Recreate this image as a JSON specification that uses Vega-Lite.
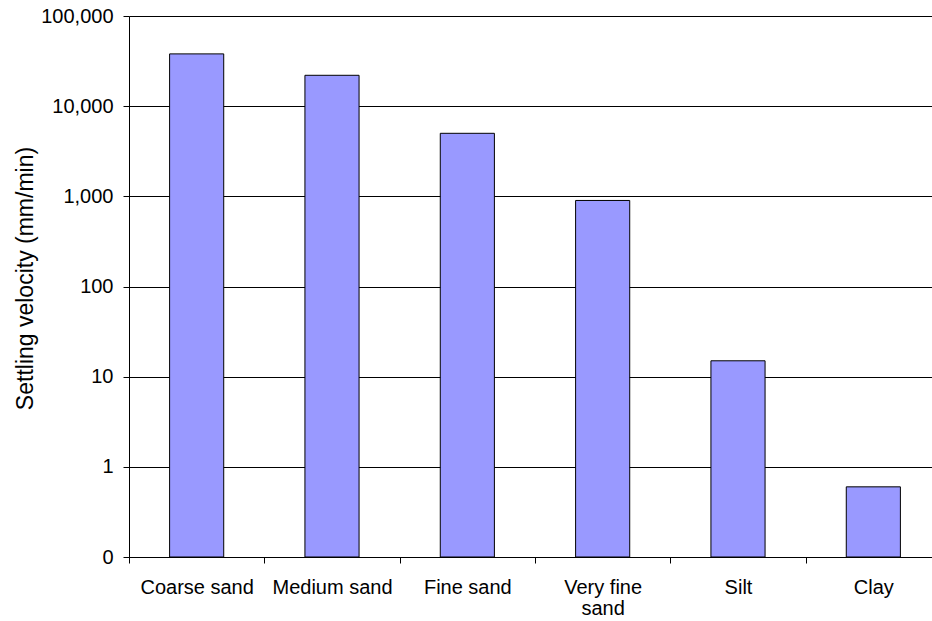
{
  "$schema": "https://vega.github.io/schema/vega-lite/v6.json",
  "width": 803,
  "height": 541,
  "autosize": {"type": "none"},
  "padding": {"left": 129, "top": 16, "right": 0, "bottom": 64},
  "background": "white",
  "config": {"view": {"stroke": null}, "font": "Liberation Sans"},
  "data": {
    "values": [
      {"sediment": "Coarse sand", "velocity": 38000},
      {"sediment": "Medium sand", "velocity": 22000},
      {"sediment": "Fine sand", "velocity": 5000},
      {"sediment": "Very fine sand", "velocity": 900},
      {"sediment": "Silt", "velocity": 15},
      {"sediment": "Clay", "velocity": 0.6}
    ]
  },
  "mark": {"type": "bar", "color": "#9999FF", "stroke": "#000000", "strokeWidth": 1},
  "encoding": {
    "x": {
      "field": "sediment",
      "type": "nominal",
      "sort": null,
      "title": null,
      "scale": {"range": [0, 812], "paddingInner": 0.6, "paddingOuter": 0.3},
      "axis": {
        "labelAngle": 0,
        "labelFontSize": 20,
        "labelColor": "#000000",
        "labelPadding": 14,
        "labelLineHeight": 21,
        "labelExpr": "datum.label == 'Very fine sand' ? ['Very fine', 'sand'] : datum.label",
        "domainColor": "#000000",
        "tickColor": "#000000",
        "tickSize": 6,
        "tickOffset": -67.7,
        "labelOffset": 67.7,
        "grid": false
      }
    },
    "y": {
      "field": "velocity",
      "type": "quantitative",
      "title": "Settling velocity (mm/min)",
      "scale": {"type": "log", "domain": [0.1, 100000]},
      "axis": {
        "values": [0.1, 1, 10, 100, 1000, 10000, 100000],
        "format": ",.0f",
        "labelFontSize": 20,
        "labelColor": "#000000",
        "labelPadding": 10,
        "tickSize": 6,
        "tickColor": "#000000",
        "domainColor": "#000000",
        "grid": true,
        "gridColor": "#000000",
        "gridOpacity": 1,
        "titleFontSize": 23,
        "titleFontWeight": "normal",
        "titleColor": "#000000",
        "titlePadding": 3,
        "titleY": 262
      }
    },
    "y2": {"datum": 0.1}
  }
}
